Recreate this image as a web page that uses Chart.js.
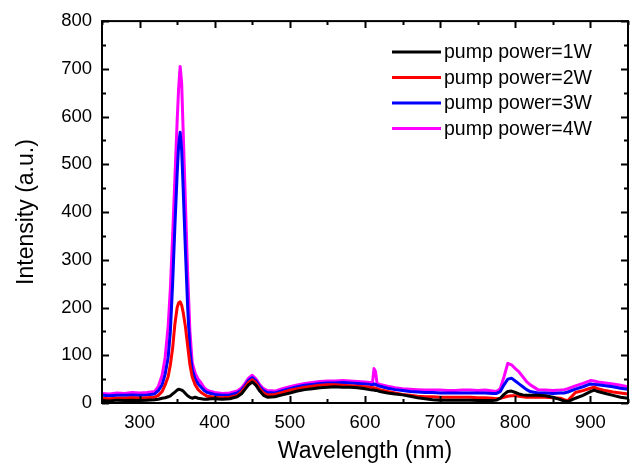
<!DOCTYPE html>
<html>
<head>
<meta charset="utf-8">
<script src="https://cdn.jsdelivr.net/npm/chart.js@4/dist/chart.umd.min.js"></script>
<style>
  body { margin: 0; background: #fff; }
</style>
</head>
<body>
<canvas id="spectrum" width="632" height="470"></canvas>
<script>
// wavelength (nm)
var wavelength = [
  250,260,270,280,290,300,310,320,325,330,
  334,338,341,344,347,350,352,354,356,358,
  361,364,367,370,374,378,382,386,390,395,
  400,410,420,430,436,440,445,450,455,460,
  465,470,480,490,500,510,520,530,540,550,
  560,570,580,590,600,606,610,612,614,616,
  620,630,640,650,660,670,680,690,700,710,
  720,730,740,750,760,770,775,780,785,790,
  795,800,805,810,815,820,830,840,850,860,
  865,870,880,890,900,905,910,920,930,940,950
];

var power1W = [
  5,4,6,5,6,5,6,7,8,10,
  11,13,15,19,23,27,29,28,27,25,
  20,15,12,10,12,10,9,8,8,9,
  9,8,9,13,20,28,38,44,37,25,
  16,12,13,17,21,25,28,30,32,33,
  34,33,33,32,30,28,27,27,26,26,
  24,21,19,17,14,11,9,7,6,6,
  6,6,6,5,5,5,6,10,18,24,
  25,22,19,17,16,16,16,15,12,7,
  4,3,10,16,24,27,24,20,16,12,10
];

var power2W = [
  10,9,10,10,11,10,11,12,16,24,
  38,55,80,115,165,200,210,212,205,190,
  160,120,80,55,38,28,22,18,14,13,
  12,11,12,16,24,32,43,49,42,30,
  21,17,18,22,27,30,33,35,37,38,
  38,37,36,35,34,33,32,32,31,30,
  28,24,21,18,16,14,13,13,12,12,
  12,12,12,11,11,10,9,10,12,14,
  15,15,14,13,12,12,12,12,11,10,
  7,5,22,26,31,33,30,26,23,21,19
];

var power3W = [
  16,15,16,16,17,16,17,19,26,38,
  60,95,150,250,370,480,540,567,530,450,
  320,200,110,70,50,40,33,26,22,20,
  18,16,17,21,28,36,47,53,46,34,
  26,22,21,26,30,34,37,39,41,42,
  42,43,42,41,40,39,38,40,39,37,
  35,31,28,26,24,23,22,22,21,21,
  21,21,21,21,21,20,20,24,38,50,
  52,46,40,34,28,24,21,21,20,21,
  21,23,29,34,40,39,38,36,34,31,29
];

var power4W = [
  20,19,21,20,22,21,22,24,35,58,
  95,160,240,350,470,590,660,705,670,570,
  420,270,150,85,62,50,42,32,27,24,
  22,20,21,25,32,40,52,58,50,38,
  30,26,25,30,34,38,41,43,45,46,
  46,47,46,45,44,43,43,72,66,41,
  39,35,32,30,29,28,27,27,27,26,
  26,27,27,26,27,25,24,30,55,83,
  80,72,65,55,45,38,28,27,26,27,
  28,30,36,41,47,46,44,42,40,37,34
];

var seriesNames = ["pump power=1W", "pump power=2W", "pump power=3W", "pump power=4W"];
var seriesColors = ["#000000", "#ff0000", "#0000ff", "#ff00ff"];
var xTickLabels = [300, 400, 500, 600, 700, 800, 900];
var yTickLabels = [0, 100, 200, 300, 400, 500, 600, 700, 800];

var fontFamily = "'Liberation Sans', Arial, sans-serif";

function toPoints(values) {
  return values.map(function (v, i) { return { x: wavelength[i], y: v }; });
}

var allSeries = [power1W, power2W, power3W, power4W];
var datasets = allSeries.map(function (s, i) {
  return {
    label: seriesNames[i],
    data: toPoints(s),
    borderColor: seriesColors[i],
    backgroundColor: seriesColors[i],
    borderWidth: 3,
    borderJoinStyle: "round",
    pointRadius: 0,
    tension: 0
  };
});

// box round the plot with inward ticks on all four sides
var framePlugin = {
  id: "frame",
  afterDatasetsDraw: function (chart) {
    var ctx = chart.ctx;
    var a = chart.chartArea;
    var x = chart.scales.x, y = chart.scales.y;
    ctx.save();
    ctx.strokeStyle = "#000";
    ctx.lineWidth = 2;
    ctx.strokeRect(a.left, a.top, a.right - a.left, a.bottom - a.top);
    ctx.beginPath();
    for (var v = x.min; v <= x.max; v += 50) {
      var px = Math.round(x.getPixelForValue(v)) + 0.5;
      var len = (v % 100 === 0) ? 7 : 4;
      ctx.moveTo(px, a.bottom); ctx.lineTo(px, a.bottom - len);
      ctx.moveTo(px, a.top); ctx.lineTo(px, a.top + len);
    }
    for (var w = y.min; w <= y.max; w += 50) {
      var py = Math.round(y.getPixelForValue(w)) + 0.5;
      var l2 = (w % 100 === 0) ? 7 : 4;
      ctx.moveTo(a.left, py); ctx.lineTo(a.left + l2, py);
      ctx.moveTo(a.right, py); ctx.lineTo(a.right - l2, py);
    }
    ctx.stroke();
    ctx.restore();
  },
  afterDraw: function (chart) {
    var ctx = chart.ctx;
    ctx.save();
    ctx.font = "19.5px " + fontFamily;
    ctx.textBaseline = "middle";
    ctx.fillStyle = "#000";
    chart.data.datasets.forEach(function (ds, i) {
      var ly = 52 + i * 25.5;
      ctx.strokeStyle = ds.borderColor;
      ctx.lineWidth = 3;
      ctx.beginPath();
      ctx.moveTo(392, ly);
      ctx.lineTo(441, ly);
      ctx.stroke();
      ctx.fillText(ds.label, 444, ly + 1);
    });
    ctx.restore();
  }
};

new Chart("spectrum", {
  type: "line",
  data: { datasets: datasets },
  options: {
    responsive: false,
    animation: false,
    devicePixelRatio: 1,
    layout: { padding: { left: 0, top: 19, right: 4, bottom: 0 } },
    plugins: {
      legend: { display: false },
      tooltip: { enabled: false }
    },
    scales: {
      x: {
        type: "linear",
        min: 250,
        max: 950,
        afterBuildTicks: function (scale) {
          scale.ticks = xTickLabels.map(function (v) { return { value: v }; });
        },
        afterFit: function (scale) { scale.height = 67; },
        grid: { display: false, drawTicks: false },
        border: { display: false },
        ticks: {
          color: "#000",
          padding: 9,
          maxRotation: 0,
          font: { family: fontFamily, size: 18.5 }
        },
        title: {
          display: true,
          text: "Wavelength (nm)",
          color: "#000",
          padding: { top: 0, bottom: 5 },
          font: { family: fontFamily, size: 23 }
        }
      },
      y: {
        type: "linear",
        min: 0,
        max: 800,
        afterBuildTicks: function (scale) {
          scale.ticks = yTickLabels.map(function (v) { return { value: v }; });
        },
        afterFit: function (scale) { scale.width = 102; },
        grid: { display: false, drawTicks: false },
        border: { display: false },
        ticks: {
          color: "#000",
          padding: 10,
          font: { family: fontFamily, size: 18.5 }
        },
        title: {
          display: true,
          text: "Intensity (a.u.)",
          color: "#000",
          padding: { top: 13, bottom: 0 },
          font: { family: fontFamily, size: 23 }
        }
      }
    }
  },
  plugins: [framePlugin]
});
</script>
</body>
</html>
